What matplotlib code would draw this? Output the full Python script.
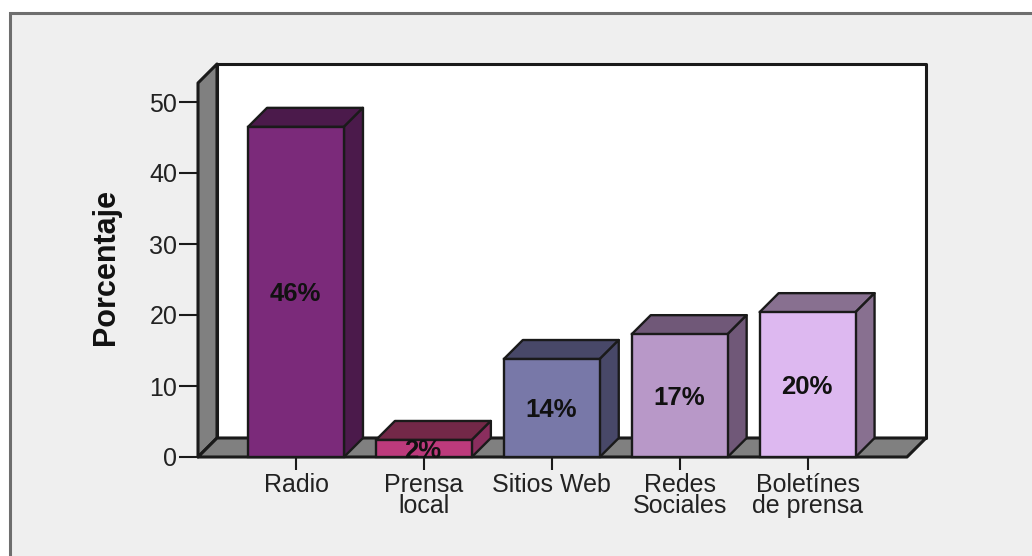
import matplotlib
matplotlib.use("Agg")
import matplotlib.pyplot as plt
from matplotlib.patches import Polygon, Rectangle

categories = ["Radio", "Prensa\nlocal", "Sitios Web", "Redes\nSociales", "Boletínes\nde prensa"]
values = [46.5, 2.4, 13.8, 17.3, 20.4]
labels = ["46%", "2%", "14%", "17%", "20%"]
front_colors = ["#7B2A7A", "#BC3A7C", "#7878A8", "#B898C8", "#DDB8F0"]
top_colors = ["#4B1A4B", "#732848", "#484868", "#705878", "#887090"]
side_colors = ["#4B1A4B", "#8A2E5E", "#484868", "#705878", "#887090"]
yticks = [0, 10, 20, 30, 40, 50]

W, H = 1032, 556
PX_X, PX_Y = 127.9, 7.1          # pixels per data unit
DX, DY = 19 / PX_X, 19 / PX_Y    # 3-D depth in data units
BAR_W = 0.75
EDGE = "#1a1a1a"
GRAY = "#808080"
LW = 1.7

plt.rcParams["font.family"] = ["Liberation Sans", "DejaVu Sans"]
fig = plt.figure(figsize=(W / 100, H / 100), dpi=100, facecolor="white")

# outer panel (right and bottom edges run off the canvas)
fig.add_artist(Rectangle((10 / W, -0.05), 1.2, 1.05 - 13 / H, transform=fig.transFigure,
                         facecolor="#EFEFEF", edgecolor="#6E6E6E", linewidth=2.2, zorder=-5))

ax = fig.add_axes([198 / W, 1 - 457 / H, (907 - 198) / W, (457 - 83) / H], zorder=2)
ax.patch.set_visible(False)
x0, x1 = -98 / PX_X, 611 / PX_X
y1 = 374 / PX_Y
ax.set_xlim(x0, x1)
ax.set_ylim(0, y1)


def poly(pts, fc, z, lw=LW):
    ax.add_patch(Polygon(pts, closed=True, facecolor=fc, edgecolor=EDGE, linewidth=lw,
                         joinstyle="round", clip_on=False, zorder=z))


# back wall, left wall, floor
poly([(x0 + DX, DY), (x1 + DX, DY), (x1 + DX, y1 + DY), (x0 + DX, y1 + DY)], "white", 1, 2.2)
poly([(x0, 0), (x0 + DX, DY), (x0 + DX, y1 + DY), (x0, y1)], GRAY, 2, 2.2)
poly([(x0, 0), (x1, 0), (x1 + DX, DY), (x0 + DX, DY)], GRAY, 2, 2.2)

for i, v in enumerate(values):
    l, r = i - BAR_W / 2, i + BAR_W / 2
    z = 3 + i
    poly([(l, v), (r, v), (r + DX, v + DY), (l + DX, v + DY)], top_colors[i], z)
    poly([(r, 0), (r + DX, DY), (r + DX, v + DY), (r, v)], side_colors[i], z)
    ax.bar(i, v, width=BAR_W, color=front_colors[i], edgecolor=EDGE, linewidth=LW,
           zorder=z + 0.5, clip_on=False)
    ax.annotate(labels[i], (i, v / 2), xytext=(-0.7, -1.5), textcoords="offset points",
                ha="center", va="center", fontsize=18.5, fontweight="bold",
                color="#111111", zorder=20)

for s in ("top", "right", "left", "bottom"):
    ax.spines[s].set_visible(False)

ax.set_xticks(range(len(categories)))
ax.set_xticklabels(categories, fontsize=18, linespacing=0.82, color="#222222")
ax.set_yticks(yticks)
ax.tick_params(axis="x", length=9.5, width=1.5, color=EDGE, pad=2)
ax.tick_params(axis="y", length=14, width=1.5, color=EDGE, pad=1, labelsize=18, labelcolor="#222222")
ax.set_ylabel("Porcentaje", fontsize=22, fontweight="bold", color="#111111", labelpad=20, y=0.508)

fig.savefig("out.png", dpi=100)
